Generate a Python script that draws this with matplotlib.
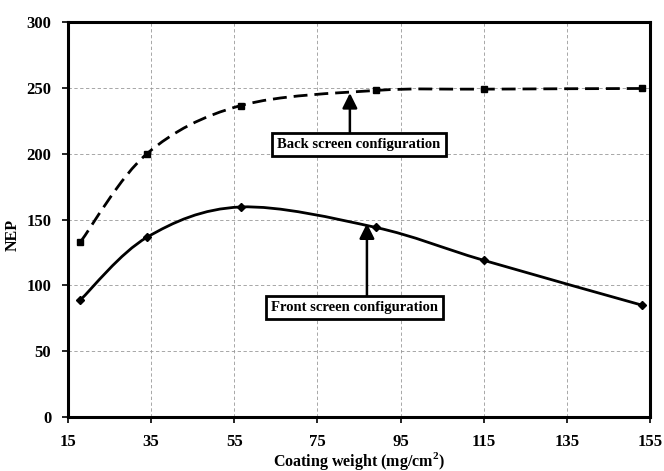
import matplotlib
matplotlib.use("Agg")
import matplotlib.pyplot as plt
import numpy as np
from matplotlib.path import Path
from matplotlib.patches import PathPatch

# data
back_x = [18, 34, 56.5, 89, 115, 153]
back_y = [133, 200, 236.5, 248, 249, 249.5]
front_x = [18, 34, 56.5, 89, 115, 153]
front_y = [89, 136.5, 159.5, 144, 119, 85]

x_ticks = [15, 35, 55, 75, 95, 115, 135, 155]
y_ticks = [0, 50, 100, 150, 200, 250, 300]

plt.rcParams['font.family'] = ['Liberation Serif', 'DejaVu Serif']
plt.rcParams['font.weight'] = 'bold'
plt.rcParams['mathtext.fontset'] = 'custom'
plt.rcParams['mathtext.bf'] = 'Liberation Serif:bold'
plt.rcParams['mathtext.rm'] = 'Liberation Serif:bold'


def smooth_path(xs, ys):
    # Excel-style smoothed line: Bezier segments with Catmull-Rom control points
    pts = np.column_stack([xs, ys]).astype(float)
    n = len(pts)
    verts = [pts[0]]
    codes = [Path.MOVETO]
    for i in range(n - 1):
        p0 = pts[max(i - 1, 0)]
        p1 = pts[i]
        p2 = pts[i + 1]
        p3 = pts[min(i + 2, n - 1)]
        c1 = p1 + (p2 - p0) / 6.0
        c2 = p2 - (p3 - p1) / 6.0
        verts += [c1, c2, p2]
        codes += [Path.CURVE4] * 3
    return Path(verts, codes)


fig = plt.figure(figsize=(6.64, 4.71), dpi=100)
ax = fig.add_axes([0.1024, 0.1146, 0.8766, 0.8387])

ax.add_patch(PathPatch(smooth_path(back_x, back_y), fill=False, lw=2.0,
                       ls=(0, (5, 2.5)), color="black", zorder=3))
ax.add_patch(PathPatch(smooth_path(front_x, front_y), fill=False, lw=2.0,
                       color="black", zorder=3))
ax.plot(back_x, back_y, ls="none", marker="s", ms=5, color="black", zorder=4)
ax.plot(front_x, front_y, ls="none", marker="D", ms=4, color="black", zorder=4)

ax.set_xlim(15, 155)
ax.set_ylim(0, 300)
ax.set_xticks(x_ticks)
ax.set_yticks(y_ticks)
ax.tick_params(labelsize=12, length=4, width=1.2, pad=8)
for lab in ax.get_xticklabels() + ax.get_yticklabels():
    lab.set_fontweight("bold")
ax.grid(True, ls=(0, (4, 3)), color="#999999", lw=0.6)
ax.set_axisbelow(True)
for s in ax.spines.values():
    s.set_linewidth(2.2)

ax.set_xlabel("Coating weight (mg/cm$^{2}$)", fontsize=11.5,
              fontweight="bold", labelpad=0)
ax.set_ylabel("NEP", fontsize=11.5, fontweight="bold")
ax.yaxis.set_label_coords(-0.082, 0.46)

box = dict(boxstyle="square,pad=0.35", fc="white", ec="black", lw=2.0)
arrow = dict(arrowstyle="-|>,head_length=0.9,head_width=0.45", color="black",
             lw=1.8, shrinkA=0, shrinkB=0)

# box labels, then arrows from the box top to the curve
ax.text(85, 207, "Back screen configuration", ha="center", va="center",
        fontsize=10.5, fontweight="bold", bbox=box, zorder=5)
ax.annotate("", xy=(82.8, 246), xytext=(82.8, 216), arrowprops=arrow, zorder=5)
ax.text(84, 83, "Front screen configuration", ha="center", va="center",
        fontsize=10.5, fontweight="bold", bbox=box, zorder=5)
ax.annotate("", xy=(86.9, 147), xytext=(86.9, 92), arrowprops=arrow, zorder=5)

fig.savefig("out.png", dpi=100)
